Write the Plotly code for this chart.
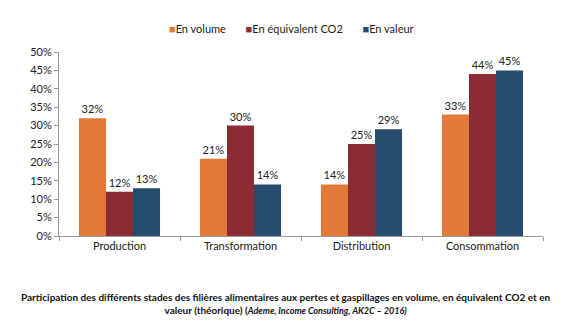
import plotly.graph_objects as go

categories = ["Production", "Transformation", "Distribution", "Consommation"]
volume = [32, 21, 14, 33]
co2 = [12, 30, 25, 44]
valeur = [13, 14, 29, 45]
series_names = ["En volume", "En équivalent CO2", "En valeur"]
colors = ["#E07A36", "#8B2B33", "#254C6D"]
y_ticks = [0, 5, 10, 15, 20, 25, 30, 35, 40, 45, 50]

font = "Lato, Carlito, sans-serif"
fig = go.Figure()
for name, vals, col in zip(series_names, [volume, co2, valeur], colors):
    fig.add_trace(go.Bar(
        x=categories, y=vals, name=name, marker_color=col,
        marker_line_width=0,
        text=[f"{v}%" for v in vals], textposition="outside",
        textfont=dict(size=11, color="#222", family=font),
        cliponaxis=False,
    ))

fig.update_layout(
    width=571, height=326,
    margin=dict(l=59, r=28, t=52, b=90, autoexpand=False),
    paper_bgcolor="white", plot_bgcolor="white",
    barmode="group", bargap=0.33, bargroupgap=0,
    font=dict(family=font, size=11, color="#222"),
    showlegend=False,
    xaxis=dict(showline=True, linecolor="#999", linewidth=1, ticks="outside",
               tickson="boundaries", ticklen=4, tickcolor="#999",
               tickfont=dict(size=11, family=font)),
    yaxis=dict(range=[0, 50], tickvals=y_ticks, ticktext=[f"{v}%" for v in y_ticks],
               showline=True, linecolor="#999", linewidth=1, ticks="outside",
               ticklen=4, tickcolor="#999", showgrid=False, zeroline=False,
               tickfont=dict(size=11, family=font)),
)

legend_text = "&nbsp;&nbsp;&nbsp;&nbsp;&nbsp;&nbsp;&nbsp;".join(
    f"<span style='color:{c}'>■</span>{n}" for n, c in zip(series_names, colors)
)
fig.add_annotation(
    xref="paper", yref="paper", x=0.48, y=1 + 24 / 184, xanchor="center", yanchor="middle",
    showarrow=False, text=legend_text, font=dict(size=11, family=font, color="#222"),
)

fig.add_annotation(
    xref="paper", yref="paper", x=0.468, y=-0.29, xanchor="center", yanchor="top",
    showarrow=False, align="center",
    text=("<b>Participation des différents stades des filières alimentaires aux pertes et gaspillages en volume, en équivalent CO2 et en</b><br>"
          "<b>valeur (théorique) (</b><b><i><span style='font-size:9px'>Ademe, Income Consulting, AK2C – 2016)</span></i></b>"),
    font=dict(size=10, family=font, color="#111"),
)

fig.write_html("out.html")
